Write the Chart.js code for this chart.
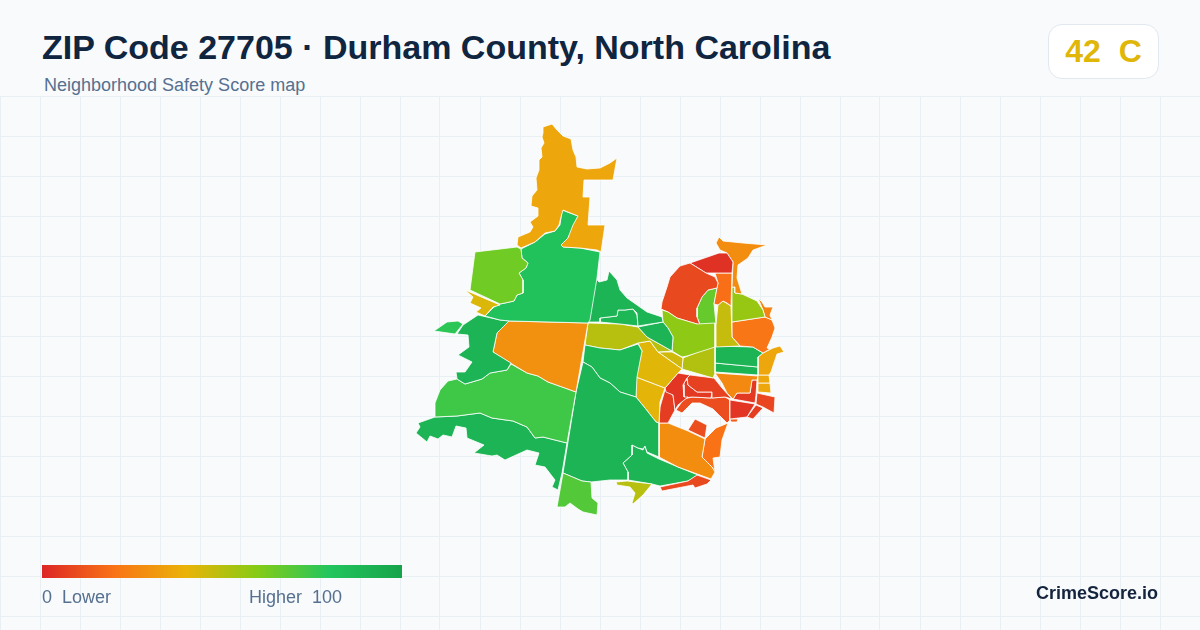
<!DOCTYPE html>
<html>
<head>
<meta charset="utf-8">
<title>ZIP Code 27705 map</title>
<script src="https://cdn.jsdelivr.net/npm/chart.js@4"></script>
<style>
    html, body { margin: 0; padding: 0; }
    body { width: 1200px; height: 630px; background: #f8fafc; position: relative; overflow: hidden;
           font-family: "Liberation Sans", Arial, sans-serif; }
    #map { position: absolute; left: 0; top: 96px; }
    .txt { position: absolute; white-space: pre; }
    #title { left: 42px; top: 27px; font-size: 34px; line-height: 40px; font-weight: 700; color: #0f2540; }
    #subtitle { left: 44px; top: 75px; font-size: 18px; line-height: 20px; color: #56708f; }
    #badge { left: 1048px; top: 24px; width: 109px; height: 53px; background: #fff; border: 1px solid #e2e8f0;
             border-radius: 14px; font-size: 32px; line-height: 53px; font-weight: 700; text-align: center; }
    #ramp { position: absolute; left: 42px; top: 565px; width: 360px; height: 13px; }
    #lo { left: 42px; top: 587px; font-size: 18px; line-height: 20px; color: #56708f; }
    #hi { left: 249px; top: 587px; font-size: 18px; line-height: 20px; color: #56708f; }
    #brand { left: 1036px; top: 582px; font-size: 18px; line-height: 22px; font-weight: 700; color: #14243d; }
</style>
</head>
<body>
<canvas id="map" width="1200" height="534"></canvas>
<div class="txt" id="title"></div>
<div class="txt" id="subtitle"></div>
<div class="txt" id="badge"></div>
<div id="ramp"></div>
<div class="txt" id="lo"></div>
<div class="txt" id="hi"></div>
<div class="txt" id="brand"></div>
<script>
const zipScore = 42;
const zipGrade = 'C';
const titleText = 'ZIP Code 27705 · Durham County, North Carolina';
const subtitleText = 'Neighborhood Safety Score map';

// colour ramp of the score legend
const rampScores = [0, 20, 40, 60, 80, 100];
const rampColors = ['#dc2626', '#f97316', '#eab308', '#84cc16', '#22c55e', '#16a34a'];

// background grid rows
const gridRows = [96, 136, 176, 216, 256, 296, 336, 376, 416, 456, 496, 536, 576, 616];

// neighborhood outlines (map units)
const northArm = [[543,127],[552,124],[557,130],[563,136],[571,139],[573,150],[576,157],[577,167],[587,169],[600,168],[610,163],[617,158],[613,180],[584,180],[583,197],[590,197],[588,225],[605,225],[601,252],[597,250],[580,248],[563,247],[561,245],[568,238],[573,225],[578,216],[563,210],[561,217],[559,225],[555,231],[545,233],[535,242],[521,248],[517,245],[518,237],[530,232],[533,227],[530,222],[538,216],[538,208],[531,206],[532,196],[537,190],[536,178],[539,170],[539,160],[542,157],[541,148],[544,143],[542,137],[543,133]];
const westLime = [[475,252],[517,247],[521,249],[522,258],[528,263],[526,268],[519,273],[523,280],[523,293],[517,295],[514,301],[505,303],[500,304],[470,290]];
const westSliver = [[465,290],[500,305],[493,307],[485,316],[476,312],[481,308],[470,303],[473,297]];
const northGreen = [[521,249],[535,242],[545,234],[555,231],[560,225],[562,210],[578,216],[568,238],[561,245],[563,247],[580,248],[600,252],[597,278],[590,320],[588,323],[510,321],[500,320],[485,316],[494,307],[500,304],[505,303],[514,301],[517,295],[523,293],[523,280],[519,273],[526,268],[528,263],[522,258]];
const westDark = [[463,325],[478,315],[500,320],[509,321],[497,333],[493,352],[511,363],[507,370],[490,373],[482,379],[465,384],[457,379],[456,372],[465,372],[472,362],[458,355],[469,347],[468,335],[457,334]];
const westTip = [[434,331],[447,322],[458,321],[463,324],[455,334]];
const centerOrange = [[509,321],[588,323],[576,392],[565,388],[548,382],[538,376],[527,373],[512,364],[493,352],[497,333]];
const southWestBand = [[511,364],[527,373],[538,376],[548,382],[565,388],[576,392],[567,443],[543,437],[535,438],[527,427],[513,421],[492,418],[480,413],[457,416],[435,417],[435,403],[440,390],[448,381],[457,379],[465,384],[482,379],[490,373],[507,370]];
const southWestDark = [[418,423],[435,417],[457,416],[480,413],[492,418],[513,421],[527,427],[535,438],[543,437],[567,443],[562,473],[558,490],[552,487],[555,480],[545,467],[535,465],[539,453],[527,450],[505,460],[497,455],[492,456],[474,453],[484,445],[467,438],[466,428],[456,426],[452,437],[443,435],[438,439],[430,436],[427,442],[416,433],[420,427]];
const southTip = [[563,473],[582,481],[591,482],[592,498],[598,503],[597,515],[583,512],[578,509],[570,503],[565,507],[557,507],[560,490]];
const centerDark = [[576,392],[583,362],[592,367],[600,378],[610,383],[620,392],[636,397],[645,408],[656,422],[659,423],[659,457],[647,452],[645,446],[643,449],[638,448],[632,445],[632,455],[623,463],[628,472],[628,480],[610,480],[591,482],[582,481],[563,473]];
const midGreen = [[585,345],[600,348],[620,350],[638,344],[642,351],[637,377],[636,397],[620,392],[610,383],[600,378],[592,367],[583,362]];
const blob = [[627,350],[642,351],[638,358],[636,368],[635,377],[627,379],[619,375],[617,368],[622,362],[627,358]];
const northEastDark = [[595,277],[599,282],[607,280],[609,271],[617,280],[620,290],[627,298],[647,312],[662,317],[663,322],[638,326],[637,313],[633,309],[625,310],[618,310],[617,316],[600,318],[600,322],[588,322]];
const innerGreen = [[600,318],[617,316],[618,310],[625,310],[633,309],[637,315],[638,326],[620,324],[600,322]];
const innerSmall = [[619,302],[627,298],[631,301],[625,304],[621,304],[619,308]];
const eastDark = [[638,327],[663,322],[668,328],[673,337],[672,351],[647,337]];
const oliveBand = [[588,323],[620,324],[638,327],[647,337],[672,351],[658,352],[650,341],[638,343],[620,350],[600,348],[585,345]];
const limeBend = [[662,310],[668,312],[677,318],[697,324],[715,323],[715,347],[687,356],[682,357],[672,351],[673,337],[668,328],[663,322]];
const goldUpper = [[638,343],[650,341],[658,352],[682,369],[678,373],[665,388],[636,377],[642,351]];
const goldWedge = [[658,352],[672,352],[683,358],[682,369]];
const goldLower = [[636,377],[665,388],[660,402],[659,423],[656,422],[645,408],[636,397]];
const oliveSquare = [[683,358],[715,345],[715,373],[713,378],[682,369]];
const redBig = [[661,309],[662,302],[667,287],[670,277],[680,266],[690,263],[706,273],[715,277],[718,283],[717,288],[708,290],[702,297],[697,308],[697,317],[700,325],[697,324],[677,318],[668,312]];
const redTop = [[690,263],[719,253],[727,253],[733,262],[732,273],[715,273],[706,273]];
const orangeStem = [[715,273],[732,273],[731,306],[727,303],[723,301],[718,305],[714,304],[717,288],[718,283]];
const limeInner = [[697,308],[702,297],[708,290],[717,288],[714,304],[716,324],[700,325],[697,317]];
const oliveStem = [[716,324],[718,305],[723,301],[731,306],[732,337],[740,346],[716,347]];
const topOrange = [[716,243],[719,237],[723,241],[743,243],[767,245],[753,250],[748,258],[738,265],[737,278],[742,294],[735,293],[735,287],[732,287],[733,262],[727,253],[720,250]];
const eastLime = [[732,287],[735,287],[735,293],[742,294],[757,301],[763,310],[765,317],[732,322]];
const eastSliver = [[758,298],[762,302],[765,307],[773,307],[770,315],[772,320],[765,317],[763,310]];
const eastOrange = [[732,322],[765,317],[772,320],[775,328],[772,337],[767,348],[770,349],[763,353],[753,347],[740,346],[732,337]];
const blockUpper = [[715,346],[753,347],[763,353],[758,357],[758,367],[715,363]];
const blockLower = [[715,363],[758,367],[758,375],[715,372]];
const edgeStrip = [[763,353],[773,348],[780,346],[784,352],[777,354],[771,372],[769,375],[758,375],[758,357]];
const edgeBoxA = [[758,375],[769,375],[770,383],[758,383]];
const edgeBoxB = [[758,383],[770,383],[771,393],[758,392]];
const coreOrange = [[715,373],[758,376],[757,380],[752,380],[750,393],[737,393],[733,399],[727,393],[722,383]];
const coreRedA = [[737,393],[750,393],[752,380],[757,380],[756,395],[755,403],[733,399]];
const coreRedB = [[757,393],[775,397],[774,413],[763,407],[756,404]];
const coreRedC = [[730,400],[755,404],[747,417],[730,419]];
const coreRedD = [[756,405],[763,408],[753,419],[747,417]];
const coreSpeck = [[730,419],[738,419],[737,422],[731,422]];
const redWest = [[678,373],[690,375],[687,378],[683,385],[684,397],[688,397],[678,405],[675,410],[673,395],[666,392],[665,388]];
const redNorth = [[690,375],[714,378],[722,388],[732,399],[725,397],[712,398],[712,392],[697,392],[688,385],[687,378]];
const redInner = [[684,382],[688,379],[688,385],[697,392],[712,392],[711,398],[692,397],[684,398]];
const redInnerSmall = [[687,388],[696,392],[696,395],[687,393]];
const redArc = [[684,399],[692,397],[711,398],[725,397],[730,400],[730,420],[727,423],[722,418],[713,409],[700,403],[692,403],[682,413],[676,410]];
const redSouth = [[660,407],[665,390],[673,395],[675,410],[668,423],[659,423]];
const redIsland = [[695,419],[707,425],[705,438],[688,430]];
const southOrange = [[659,423],[668,423],[688,431],[705,439],[702,457],[712,467],[715,472],[711,479],[678,467],[659,457]];
const southEastOrange = [[705,439],[716,428],[728,423],[722,440],[720,457],[713,458],[715,472],[712,467],[702,457]];
const southRed = [[660,487],[688,481],[697,475],[711,480],[707,484],[695,488],[693,485],[662,491]];
const southOlive = [[616,482],[627,481],[652,484],[643,495],[633,504],[632,503],[635,493],[630,487],[617,485]];
const southGreen = [[632,445],[638,448],[643,450],[645,446],[647,453],[659,459],[678,467],[698,475],[688,481],[660,486],[652,484],[628,480],[628,472],[623,463],[632,455]];

const regionOutlines = [northArm, westLime, westSliver, northGreen, westDark, westTip, centerOrange, southWestBand, southWestDark, southTip, centerDark, midGreen, blob, northEastDark, innerGreen, innerSmall, eastDark, oliveBand, limeBend, goldUpper, goldWedge, goldLower, oliveSquare, redBig, redTop, orangeStem, limeInner, oliveStem, topOrange, eastLime, eastSliver, eastOrange, blockUpper, blockLower, edgeStrip, edgeBoxA, edgeBoxB, coreOrange, coreRedA, coreRedB, coreRedC, coreRedD, coreSpeck, redWest, redNorth, redInner, redInnerSmall, redArc, redSouth, redIsland, southOrange, southEastOrange, southRed, southOlive, southGreen];
const regionScores = [36, 64, 43, 82, 90, 78, 29, 74, 90, 70, 90, 88, 78, 90, 88, 88, 90, 50, 58, 42, 45, 41, 51, 9, 3, 19, 66, 47, 28, 56, 25, 21, 90, 90, 36, 36, 36, 27, 5, 8, 4, 6, 15, 4, 7, 5, 5, 10, 6, 10, 28, 20, 9, 50, 90];

function hexToRgb(hex) {
    return [1, 3, 5].map(i => parseInt(hex.slice(i, i + 2), 16));
}

// score -> colour, same ramp as the legend
function scoreColor(score) {
    let i = 0;
    while (i < rampScores.length - 2 && score > rampScores[i + 1]) i++;
    const t = (score - rampScores[i]) / (rampScores[i + 1] - rampScores[i]);
    const a = hexToRgb(rampColors[i]);
    const b = hexToRgb(rampColors[i + 1]);
    const mix = a.map((v, k) => Math.round(v + (b[k] - v) * t));
    return `rgb(${mix[0]}, ${mix[1]}, ${mix[2]})`;
}

const datasets = regionOutlines.map((outline, i) => ({
    data: outline.concat([outline[0]]).map(p => ({ x: p[0], y: p[1] })),
    backgroundColor: scoreColor(regionScores[i]),
    borderColor: '#ffffff',
    borderWidth: 0.8,
    fill: 'shape',
    showLine: true,
    tension: 0,
    pointRadius: 0
}));

document.getElementById('title').textContent = titleText;
document.getElementById('subtitle').textContent = subtitleText;
const badge = document.getElementById('badge');
badge.textContent = zipScore + '  ' + zipGrade;
badge.style.color = scoreColor(zipScore);
document.getElementById('ramp').style.background = 'linear-gradient(to right, ' + rampColors.join(', ') + ')';
document.getElementById('lo').textContent = '0  Lower';
document.getElementById('hi').textContent = 'Higher  100';
document.getElementById('brand').textContent = 'CrimeScore.io';

new Chart(document.getElementById('map'), {
    type: 'scatter',
    data: { datasets: datasets },
    options: {
        responsive: false,
        animation: false,
        devicePixelRatio: 1,
        layout: { padding: 0 },
        plugins: { legend: { display: false }, tooltip: { enabled: false } },
        scales: {
            x: {
                min: 0, max: 1200,
                ticks: { display: false, stepSize: 40 },
                grid: { color: '#e8f0f3', drawTicks: false },
                border: { display: false }
            },
            y: {
                min: 96, max: 630, reverse: true,
                ticks: { display: false },
                afterBuildTicks: axis => { axis.ticks = gridRows.map(v => ({ value: v })); },
                grid: { color: '#e8f0f3', drawTicks: false },
                border: { display: false }
            }
        }
    }
});
</script>
</body>
</html>
